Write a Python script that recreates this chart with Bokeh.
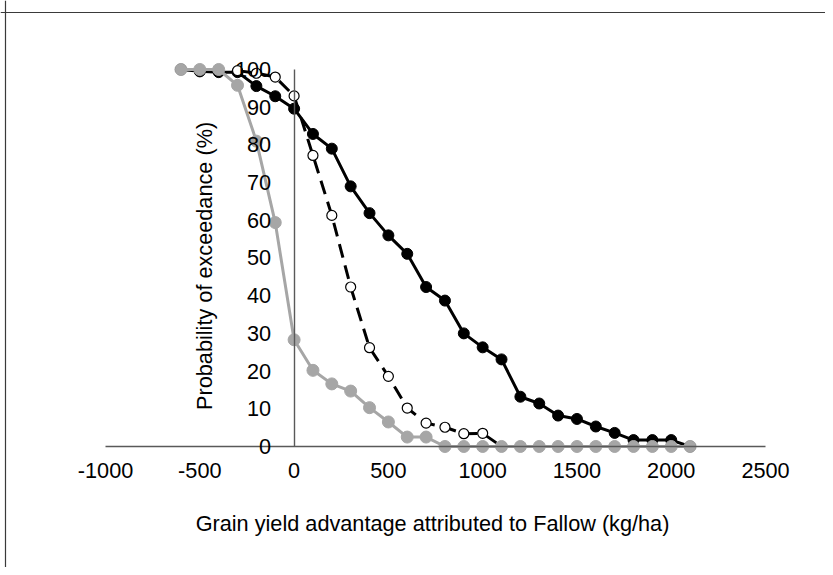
from bokeh.plotting import figure
from bokeh.models import Range1d, FixedTicker, Span, Label
from bokeh.embed import file_html
from bokeh.resources import INLINE
import math

# ---- data ----
black_x = [-600, -500, -400, -300, -200, -100, 0, 100, 200, 300, 400, 500, 600, 700,
           800, 900, 1000, 1100, 1200, 1300, 1400, 1500, 1600, 1700, 1800, 1900, 2000, 2100]
black_y = [100, 99.5, 99.3, 99.3, 95.6, 92.9, 89.6, 82.9, 79.0, 69.0, 61.9, 56.0, 51.1, 42.3,
           38.7, 30.0, 26.3, 23.1, 13.2, 11.4, 8.2, 7.3, 5.3, 3.6, 1.7, 1.7, 1.7, 0]

dash_x = [-300, -200, -100, 0, 100, 200, 300, 400, 500, 600, 700, 800, 900, 1000, 1100]
dash_y = [99.7, 99, 98, 93, 77.2, 61.3, 42.3, 26.2, 18.6, 10.2, 6.2, 5.1, 3.4, 3.5, 0]

gray_x = [-600, -500, -400, -300, -200, -100, 0, 100, 200, 300, 400, 500, 600, 700,
          800, 900, 1000, 1100, 1200, 1300, 1400, 1500, 1600, 1700, 1800, 1900, 2000, 2100]
gray_y = [100, 100, 100, 95.8, 81, 59.4, 28.3, 20.2, 16.6, 14.7, 10.3, 6.5, 2.5, 2.5,
          0, 0, 0, 0, 0, 0, 0, 0, 0, 0, 0, 0, 0, 0]

x_ticks = [-1000, -500, 0, 500, 1000, 1500, 2000, 2500]
x_tick_labels = ["-1000", "-500", "0", "500", "1000", "1500", "2000", "2500"]
y_ticks = [0, 10, 20, 30, 40, 50, 60, 70, 80, 90, 100]
x_title = "Grain yield advantage attributed  to Fallow (kg/ha)"
y_title = "Probability of exceedance (%)"

FONT = "Liberation Sans"
FS = "21.7px"

W, H = 825, 567
p = figure(width=W, height=H, output_backend="svg", toolbar_location=None,
           x_range=Range1d(-1557.0, 2818.1), y_range=Range1d(-32.10, 118.30),
           min_border=0, min_border_left=0, min_border_right=0,
           min_border_top=0, min_border_bottom=0)
p.outline_line_color = None
p.grid.visible = False
p.background_fill_color = "white"
p.border_fill_color = "white"

for ax in (p.xaxis[0], p.yaxis[0]):
    ax.fixed_location = 0
    ax.major_tick_line_color = None
    ax.minor_tick_line_color = None
    ax.major_tick_out = 0
    ax.major_tick_in = 0
    ax.minor_tick_out = 0
    ax.minor_tick_in = 0
    ax.axis_line_color = "#595959"
    ax.axis_line_width = 1.4
    ax.major_label_text_font = FONT
    ax.major_label_text_font_size = FS
    ax.major_label_text_color = "#000000"

p.xaxis[0].ticker = FixedTicker(ticks=x_ticks)
p.xaxis[0].major_label_overrides = {t: s for t, s in zip(x_ticks, x_tick_labels)}
p.xaxis[0].bounds = (x_ticks[0], x_ticks[-1])
p.xaxis[0].major_label_standoff = 17
p.yaxis[0].ticker = FixedTicker(ticks=y_ticks)
p.yaxis[0].bounds = (y_ticks[0], y_ticks[-1])
p.yaxis[0].major_label_standoff = 23

# series
p.line(black_x, black_y, line_color="black", line_width=3)
p.scatter(black_x, black_y, size=11, fill_color="black", line_color="black")

p.line(dash_x, dash_y, line_color="black", line_width=3, line_dash="14 8")
p.scatter(dash_x, dash_y, size=10, fill_color="white", line_color="black", line_width=1.2)

p.line(gray_x, gray_y, line_color="#a6a6a6", line_width=3)
p.scatter(gray_x, gray_y, size=12, fill_color="#a6a6a6", line_color="#a6a6a6")

# titles
p.add_layout(Label(x=750, y=-20.4, text=x_title, text_font=FONT, text_font_size=FS,
                   text_align="center", text_baseline="middle", text_color="#000000"))
p.add_layout(Label(x=-475, y=47.9, text=y_title, text_font=FONT, text_font_size=FS,
                   angle=math.pi / 2, text_align="center", text_baseline="middle",
                   text_color="#000000"))

# chart border (top and left visible in reference)
p.add_layout(Span(location=115.12, dimension="width", line_color="#3a3a3a", line_width=1.2))
p.add_layout(Span(location=-1530.5, dimension="height", line_color="#3a3a3a", line_width=1.2))

open("out.html", "w").write(file_html(p, INLINE))
